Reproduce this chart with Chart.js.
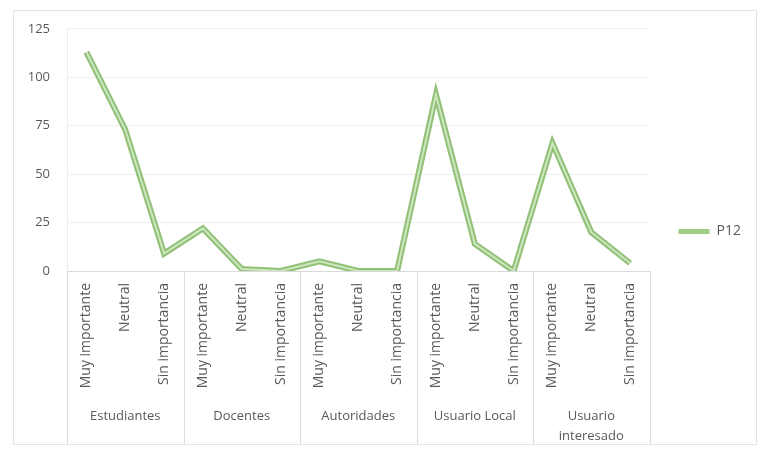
<!DOCTYPE html>
<html>
<head>
<meta charset="utf-8">
<script src="https://cdn.jsdelivr.net/npm/chart.js@4"></script>
<style>
  html, body { margin: 0; padding: 0; background: #ffffff; }
  body { width: 762px; height: 449px; position: relative; overflow: hidden; }
  #frame { position: absolute; left: 13px; top: 10px; width: 744px; height: 435px;
           border: 1px solid #e4e4e4; box-sizing: border-box; }
  #wrap { position: absolute; left: 13px; top: 10px; width: 744px; height: 435px; }
</style>
</head>
<body>
<div id="frame"></div>
<div id="wrap"><canvas id="c"></canvas></div>
<script>
// ---- data ----
const groups = ['Estudiantes', 'Docentes', 'Autoridades', 'Usuario Local', 'Usuario interesado'];
const groupTickLabels = [['Estudiantes'], ['Docentes'], ['Autoridades'], ['Usuario Local'], ['Usuario', 'interesado']];
const levels = ['Muy importante', 'Neutral', 'Sin importancia'];
const p12Values = [113, 73, 9, 22, 1, 0, 5, 0, 0, 91, 14, 0, 66, 20, 4];
const yTicks = [0, 25, 50, 75, 100, 125];
const seriesName = 'P12';

// build the flat category list from the arrays above
const subLabels = [];
groups.forEach(() => levels.forEach(l => subLabels.push(l)));

const textColor = '#595959';
const fontFamily = '"Open Sans", "Liberation Sans", sans-serif';

// separators between the groups under the axis
const groupSeparators = {
  id: 'groupSeparators',
  afterDraw(chart) {
    const x = chart.scales.x;
    const ctx = chart.ctx;
    const area = chart.chartArea;
    const n = subLabels.length;
    const per = levels.length;
    const step = x.getPixelForValue(1) - x.getPixelForValue(0);
    ctx.save();
    ctx.strokeStyle = '#dcdcdc';
    ctx.lineWidth = 1;
    for (let i = 0; i <= n; i += per) {
      let px;
      if (i === 0) px = x.getPixelForValue(0) - step / 2;
      else if (i === n) px = x.getPixelForValue(n - 1) + step / 2;
      else px = (x.getPixelForValue(i - 1) + x.getPixelForValue(i)) / 2;
      px = Math.round(px) + 0.5;
      ctx.beginPath();
      ctx.moveTo(px, area.bottom);
      ctx.lineTo(px, chart.height);
      ctx.stroke();
    }
    ctx.restore();
  }
};

new Chart(document.getElementById('c'), {
  type: 'line',
  data: {
    labels: subLabels,
    datasets: [
      {
        label: seriesName,
        data: p12Values,
        borderColor: '#91c177',
        backgroundColor: '#9fcd88',
        borderWidth: 6,
        pointRadius: 0,
        tension: 0,
        borderJoinStyle: 'miter',
        order: 2,
        xAxisID: 'x'
      },
      {
        label: seriesName + '_inner',
        data: p12Values,
        borderColor: '#cde6bf',
        backgroundColor: '#cde6bf',
        borderWidth: 2,
        pointRadius: 0,
        tension: 0,
        borderJoinStyle: 'miter',
        order: 1,
        xAxisID: 'x'
      }
    ]
  },
  options: {
    responsive: true,
    maintainAspectRatio: false,
    animation: false,
    layout: { padding: { top: 8, right: 6, bottom: 0, left: 0 } },
    plugins: {
      tooltip: { enabled: false },
      legend: {
        position: 'right',
        labels: {
          generateLabels(chart) {
            return Chart.defaults.plugins.legend.labels.generateLabels(chart)
              .filter(item => item.text === seriesName)
              .map(item => Object.assign(item, { lineWidth: 0, fillStyle: '#9fcd88', strokeStyle: '#9fcd88' }));
          },
          boxWidth: 31,
          boxHeight: 5,
          color: textColor,
          font: { family: fontFamily, size: 14 },
          padding: 29
        }
      }
    },
    scales: {
      x: {
        type: 'category',
        position: 'bottom',
        offset: true,
        grid: { display: false },
        border: { display: true, color: '#d9d9d9' },
        ticks: {
          minRotation: 90, maxRotation: 90, autoSkip: false,
          color: textColor, font: { family: fontFamily, size: 14 }, padding: 4
        },
        afterFit(scale) { scale.height = 128; }
      },
      x2: {
        type: 'category',
        position: 'bottom',
        labels: groupTickLabels,
        offset: true,
        grid: { display: false },
        border: { display: false },
        ticks: {
          maxRotation: 0, minRotation: 0, autoSkip: false,
          color: textColor, font: { family: fontFamily, size: 13, lineHeight: 1.5 }, padding: 0
        },
        afterFit(scale) { scale.height = 46; }
      },
      y: {
        min: 0, max: 125,
        afterBuildTicks(scale) { scale.ticks = yTicks.map(v => ({ value: v })); },
        grid: { color: '#efefef', drawTicks: true, tickLength: 6, tickColor: 'rgba(0,0,0,0)' },
        border: { display: true, color: '#ececec' },
        ticks: { color: textColor, font: { family: fontFamily, size: 13 }, padding: 11 },
        afterFit(scale) { scale.width = 54; }
      }
    }
  },
  plugins: [groupSeparators]
});
</script>
</body>
</html>
